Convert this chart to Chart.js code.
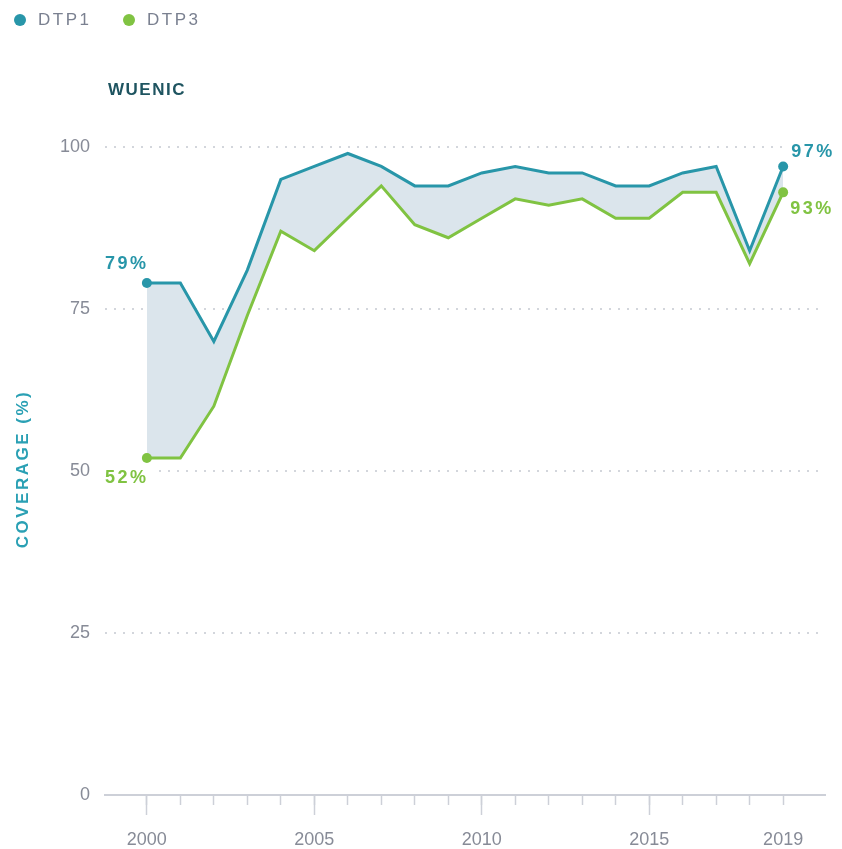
<!DOCTYPE html>
<html>
<head>
<meta charset="utf-8">
<script src="https://cdn.jsdelivr.net/npm/chart.js@4.4.1/dist/chart.umd.min.js"></script>
<style>
  html, body { margin: 0; padding: 0; background: #fff; }
  #wrap { width: 842px; height: 849px; }
</style>
</head>
<body>
<div id="wrap"><canvas id="chart"></canvas></div>
<script>
const years = [2000, 2001, 2002, 2003, 2004, 2005, 2006, 2007, 2008, 2009,
               2010, 2011, 2012, 2013, 2014, 2015, 2016, 2017, 2018, 2019];
const dtp1 = [79, 79, 70, 81, 95, 97, 99, 97, 94, 94, 96, 97, 96, 96, 94, 94, 96, 97, 84, 97];
const dtp3 = [52, 52, 60, 74, 87, 84, 89, 94, 88, 86, 89, 92, 91, 92, 89, 89, 93, 93, 82, 93];
const yTicks = [0, 25, 50, 75, 100];
const xLabels = [2000, 2005, 2010, 2015, 2019];
const majorYears = [2000, 2005, 2010, 2015];

const TEAL = '#2896a9';
const GREEN = '#80c342';
const FILL = '#dbe5ec';
const GREY = '#878b97';

const last = years.length - 1;
const endDot = ctx => (ctx.dataIndex === 0 || ctx.dataIndex === last) ? 5 : 0;

// legend, heading, axis title and the end-value labels
const decor = {
  id: 'decor',
  afterDraw(chart) {
    const c = chart.ctx;
    const xs = chart.scales.x, ys = chart.scales.y;
    c.save();
    c.textBaseline = 'middle';

    // legend
    c.font = '17px "Liberation Sans", Arial, sans-serif';
    c.letterSpacing = '2.5px';
    [['DTP1', TEAL, 20], ['DTP3', GREEN, 129]].forEach(([t, col, x]) => {
      c.fillStyle = col;
      c.beginPath(); c.arc(x, 20, 6, 0, Math.PI * 2); c.fill();
      c.fillStyle = '#7a8090';
      c.textAlign = 'left';
      c.fillText(t, x + 18, 20);
    });

    // heading
    c.font = 'bold 17px "Liberation Sans", Arial, sans-serif';
    c.letterSpacing = '1.5px';
    c.fillStyle = '#1e5460';
    c.fillText('WUENIC', 108, 90);

    // y title
    c.save();
    c.translate(23, 469);
    c.rotate(-Math.PI / 2);
    c.textAlign = 'center';
    c.font = 'bold 17px "Liberation Sans", Arial, sans-serif';
    c.letterSpacing = '2.5px';
    c.fillStyle = '#2aa0b4';
    c.fillText('COVERAGE (%)', 0, 0);
    c.restore();

    // end labels
    c.font = '600 18px "Liberation Sans", Arial, sans-serif';
    c.letterSpacing = '2.5px';
    const x0 = xs.getPixelForValue(years[0]);
    const xe = xs.getPixelForValue(years[last]);
    const label = (txt, x, y, align, col) => {
      c.textAlign = align;
      const w = c.measureText(txt).width;
      const left = align === 'center' ? x - w / 2 : x;
      c.fillStyle = '#fff';
      c.fillRect(left - 4, y - 9, w + 8, 18);
      c.fillStyle = col;
      c.fillText(txt, x, y);
    };
    label(dtp1[0] + '%', x0 - 20, ys.getPixelForValue(dtp1[0]) - 19, 'center', TEAL);
    label(dtp3[0] + '%', x0 - 20, ys.getPixelForValue(dtp3[0]) + 20, 'center', GREEN);
    label(dtp1[last] + '%', xe + 8, ys.getPixelForValue(dtp1[last]) - 14, 'left', TEAL);
    label(dtp3[last] + '%', xe + 7, ys.getPixelForValue(dtp3[last]) + 17, 'left', GREEN);
    c.restore();
  }
};

new Chart(document.getElementById('chart'), {
  type: 'line',
  data: {
    datasets: [
      {
        label: 'DTP1',
        data: years.map((y, i) => ({ x: y, y: dtp1[i] })),
        borderColor: TEAL,
        backgroundColor: FILL,
        pointBackgroundColor: TEAL,
        borderWidth: 3,
        fill: '+1',
        tension: 0,
        pointRadius: endDot,
        pointBorderWidth: 0
      },
      {
        label: 'DTP3',
        data: years.map((y, i) => ({ x: y, y: dtp3[i] })),
        borderColor: GREEN,
        backgroundColor: GREEN,
        pointBackgroundColor: GREEN,
        borderWidth: 3,
        fill: false,
        tension: 0,
        pointRadius: endDot,
        pointBorderWidth: 0
      }
    ]
  },
  options: {
    responsive: true,
    maintainAspectRatio: false,
    animation: false,
    layout: { padding: { top: 147, right: 17, left: 0, bottom: 0 } },
    plugins: {
      legend: { display: false },
      tooltip: { enabled: false },
      filler: { drawTime: 'beforeDatasetsDraw' }
    },
    scales: {
      xMinor: {
        type: 'linear',
        position: 'bottom',
        weight: 0,
        min: 1998.75,
        max: 2020.25,
        afterBuildTicks: s => { s.ticks = years.map(v => ({ value: v })); },
        afterFit: s => { s.height = 0; },
        ticks: { display: false },
        grid: { drawOnChartArea: false, drawTicks: true, tickLength: 10, tickColor: '#cdd0d8', tickWidth: 1.5 },
        border: { display: true, color: '#cdd0d8', width: 2 }
      },
      x: {
        type: 'linear',
        position: 'bottom',
        weight: 1,
        min: 1998.75,
        max: 2020.25,
        afterBuildTicks: s => { s.ticks = xLabels.map(v => ({ value: v })); },
        afterFit: s => { s.height = 54; },
        ticks: {
          padding: 14,
          color: GREY,
          font: { family: '"Liberation Sans", Arial, sans-serif', size: 18 },
          callback: v => String(v),
          maxRotation: 0,
          autoSkip: false
        },
        grid: {
          drawOnChartArea: false,
          drawTicks: true,
          tickLength: 20,
          tickWidth: 1.5,
          tickColor: c => majorYears.includes(c.tick.value) ? '#cdd0d8' : 'rgba(0,0,0,0)'
        },
        border: { display: false }
      },
      y: {
        min: 0,
        max: 100,
        afterBuildTicks: s => { s.ticks = yTicks.map(v => ({ value: v })); },
        afterFit: s => { s.width = 105; },
        ticks: {
          padding: 15,
          color: GREY,
          font: { family: '"Liberation Sans", Arial, sans-serif', size: 18 }
        },
        grid: {
          drawTicks: false,
          color: c => c.tick.value === 0 ? 'rgba(0,0,0,0)' : '#d3d6dc',
          lineWidth: 2
        },
        border: { display: false, dash: [2, 7] }
      }
    }
  },
  plugins: [decor]
});
</script>
</body>
</html>
